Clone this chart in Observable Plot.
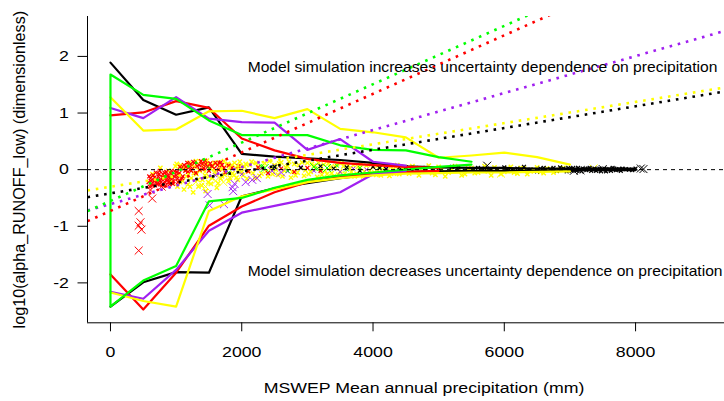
<!DOCTYPE html>
<html><head><meta charset="utf-8">
<script src="https://cdn.jsdelivr.net/npm/d3@7"></script>
<script src="https://cdn.jsdelivr.net/npm/@observablehq/plot@0.6"></script>
<style>body{margin:0;background:#fff}</style>
</head><body><div id="chart"></div>
<script>
// ---- axes ----
const X_DOMAIN = [-350, 9355];
const Y_DOMAIN = [-2.705, 2.705];
const xTicks = [0, 2000, 4000, 6000, 8000];
const yTicks = [-2, -1, 0, 1, 2];
const xTitle = "MSWEP Mean annual precipitation (mm)";
const yTitle = "log10(alpha_RUNOFF_low) (dimensionless)";
const noteUp = "Model simulation increases uncertainty dependence on precipitation";
const noteDown = "Model simulation decreases uncertainty dependence on precipitation";

// ---- binned envelopes (bin centres in mm) ----
const binX = [0,500,1000,1500,2000,2500,3000,3500,4000,4500,5000,5500,6000,6500,7000,7500,8000];
const blackUpper  = [1.89,1.23,0.97,1.10,0.28,0.23,0.20,0.17,0.12,0.06,0.04,0.03,0.03,0.02,0.02,0.02,0.02];
const blackLower  = [-2.42,-1.99,-1.81,-1.82,-0.47,-0.33,-0.24,-0.15,-0.08,-0.04,-0.03,-0.02,-0.02,-0.02,-0.01,-0.01,-0.01];
const redUpper    = [0.96,1.01,1.21,1.09,0.55,0.34,0.19,0.12,0.08,0.05,0.03];
const redLower    = [-1.85,-2.47,-1.82,-0.99,-0.65,-0.40,-0.22,-0.13,-0.08,-0.04,-0.02];
const greenUpper  = [1.68,1.32,1.25,0.87,0.61,0.61,0.61,0.43,0.35,0.34,0.22,0.14];
const greenLower  = [-2.42,-1.96,-1.70,-0.56,-0.50,-0.32,-0.18,-0.10,-0.05,0.00,0.05,0.09];
const purpleUpper = [1.09,0.91,1.28,0.90,0.84,0.83,0.35,0.54,0.14,0.07];
const purpleLower = [-2.16,-2.28,-1.77,-1.08,-0.76,-0.64,-0.52,-0.40,-0.08,-0.02];
const yellowUpper = [1.28,0.69,0.71,1.03,1.04,0.91,1.07,0.72,0.66,0.57,0.21,0.25,0.30,0.22,0.09];
const yellowLower = [-2.17,-2.32,-2.42,-0.73,-0.47,-0.35,-0.22,-0.15,-0.10,-0.07,-0.06,-0.05,-0.05,-0.04,-0.03];

// ---- regression lines: [intercept, slope per mm] ----
const blackFit  = [-0.419, 0.0001923];
const redFit    = [-0.729, 0.000517];
const greenFit  = [-0.553, 0.0005155];
const purpleFit = [-0.607, 0.0003266];
const yellowFit = [-0.302, 0.0001873];

// ---- catchment points [precip, log10 alpha] ----
const redPts = [[580,-0.22],[600,-0.30],[610,-0.15],[630,-0.25],[650,-0.10],[660,-0.20],[680,-0.28],[690,-0.05],[700,-0.17],[720,-0.24],[730,-0.12],[750,-0.02],[760,-0.19],[780,-0.27],[800,-0.08],[810,-0.15],[830,-0.22],[850,-0.04],[860,-0.12],[880,-0.18],[900,-0.26],[920,-0.07],[940,-0.14],[960,-0.20],[980,-0.03],[1000,-0.10],[1020,-0.16],[1050,-0.06],[1080,0.02],[1100,-0.12],[1150,0.05],[1180,-0.04],[1220,0.10],[1250,0.02],[1280,0.12],[1300,-0.06],[1350,0.08],[1380,0.15],[1420,0.03],[1450,0.10],[1500,-0.02],[1550,0.06],[1600,0.12],[1650,0.00],[1700,0.08],[1750,-0.05],[1850,0.03],[1950,0.06],[2100,-0.03],[2250,0.04],[2400,-0.06],[2600,0.02],[2800,-0.04],[3000,0.03],[3200,-0.02],
  [590,-0.12],[620,-0.20],[640,-0.28],[670,-0.14],[710,-0.26],[740,-0.08],[770,-0.22],[790,-0.14],[820,-0.05],[840,-0.28],[870,-0.10],[890,-0.22],[910,-0.15],[930,-0.02],[950,-0.25],[970,-0.12],[1010,-0.04],[1030,-0.22],[1060,0.05],[1090,-0.15],[1120,0.08],[1140,-0.02],[1170,0.12],[1200,0.04],[1230,-0.02],[1260,0.14],[1320,0.06],[1360,0.00],[1400,0.10],[1440,0.16],[1480,0.05],[1520,0.11],[1580,0.02],[1630,0.08],[1680,0.13],[1730,0.03],[1800,0.07]];
const redBig = [[430,-0.73],[457,-0.93],[430,-0.99],[472,-1.06],[430,-1.43],[636,-0.51],[610,-0.36],[700,-0.22],[850,-0.18],[780,-0.30]];
const yellowPts = [[640,-0.08],[700,-0.18],[760,0.03],[820,-0.12],[880,-0.02],[940,-0.22],[990,0.06],[1020,-0.30],[1040,-0.10],[1070,0.08],[1100,-0.20],[1120,-0.35],[1150,0.00],[1180,-0.26],[1200,0.12],[1230,-0.15],[1260,-0.40],[1290,0.05],[1310,-0.08],[1340,-0.30],[1370,0.14],[1400,-0.18],[1420,0.02],[1450,-0.38],[1480,0.10],[1500,-0.12],[1530,-0.25],[1560,0.06],[1590,-0.04],[1620,-0.32],[1650,0.13],[1680,-0.16],[1710,0.01],[1740,-0.09],[1770,0.09],[1800,-0.20],[1830,0.04],[1860,-0.06],[1890,0.12],[1920,-0.14],[1950,0.00],[1980,0.07],[2020,-0.10],[2060,0.10],[2100,-0.03],[2150,0.14],[2200,-0.15],[2250,0.05],[2300,-0.07],[2350,0.11],[2400,-0.12],[2450,0.02],[2500,0.08],[2550,-0.09],[2600,0.13],[2650,-0.02],[2700,0.06],[2750,-0.14],[2800,0.10],[2850,-0.05],[2900,0.03],[2950,-0.11],[3000,0.12],[3050,-0.04],[3100,0.07],[3150,-0.13],[3200,0.01],[3250,0.09],[3300,-0.08],[3350,0.04],[3400,-0.12],[3450,0.10],[3500,-0.03],[3550,0.06],[3600,-0.10],[3650,0.02],[3700,0.08],[3750,-0.07],[3800,0.03],[3850,-0.12],[3900,0.07],[3950,-0.02],[4000,0.05],[4050,-0.09],[4100,0.02],[4150,-0.05],[4200,0.08],[4250,-0.11],[4300,0.00],[4350,0.05],[4400,-0.08],[4450,0.03],[4500,-0.04],[4600,0.06],[4700,-0.10],[4800,0.02],[4900,-0.06],[5000,0.05],[5100,-0.12],[5200,0.00],[5300,0.04],[5400,-0.08],[5500,0.03],[5600,-0.05],[5700,0.06],[5800,-0.10],[5900,0.01],[6000,-0.04],[6100,0.05],[6200,-0.07],[6300,0.02],[6400,-0.03],[6500,0.04],[6600,-0.06],[6700,0.01],[6800,-0.02],[6900,0.03],
  [1010,0.10],[1060,-0.22],[1110,0.04],[1160,-0.12],[1210,-0.30],[1240,0.08],[1270,-0.06],[1300,0.15],[1330,-0.18],[1360,-0.02],[1390,-0.28],[1410,0.09],[1440,-0.10],[1470,0.16],[1490,-0.22],[1520,0.03],[1550,-0.15],[1580,0.12],[1610,-0.08],[1640,-0.24],[1670,0.06],[1700,-0.12],[1730,0.15],[1760,-0.02],[1790,0.10],[1820,-0.14],[1850,0.08],[1880,-0.10],[1910,0.03],[1940,-0.18],[1970,0.14],[2000,-0.04],[2040,0.05],[2080,-0.16],[2120,0.08],[2170,-0.06],[2220,0.12],[2270,-0.11],[2320,0.03],[2370,-0.03],[2420,0.15],[2470,-0.08],[2520,0.00],[2570,0.11],[2620,-0.12],[2670,0.04],[2720,0.14],[2770,-0.04],[2820,-0.10],[2870,0.08],[2920,0.13],[2970,-0.01],[3020,-0.08],[3070,0.10],[3120,0.02],[3170,0.12],[3220,-0.09],[3270,-0.02],[3320,0.11],[3370,-0.06],[3420,0.06],[3470,-0.09],[3520,0.12],[3570,-0.07],[3620,0.08],[3670,-0.04],[3720,-0.12],[3770,0.05],[3820,0.10],[3870,-0.03],[3920,-0.09],[3970,0.09],[4020,-0.05],[4070,0.07],[4120,-0.10],[4170,0.04],[4220,-0.02],[4270,0.06],[4320,-0.07],[4370,0.08],[4420,-0.03],[4480,0.05],[4550,-0.07],[4650,0.03],[4750,-0.02],[4850,0.07],[4950,-0.09],[5050,0.01],[5150,-0.05],[5250,0.06],[5350,-0.10],[5450,0.02],[5550,-0.06],[5650,0.00],[5750,-0.03],[5850,0.04],[5950,-0.08],[6050,0.02],[6150,-0.05],[6250,0.03],[6350,-0.08],[6450,0.00],[6550,-0.04],[6650,0.02],[6750,-0.05],[6850,0.00]];
const yellowBig = [[1300,-0.22],[1450,-0.30],[1600,-0.20],[1720,-0.22],[5950,-0.07],[7360,0.02]];
const purplePts = [[1600,-0.10],[2000,-0.08],[2300,0.02],[2500,0.06],[2700,-0.03],[2900,0.05],[3100,-0.02],[3300,0.03],[3500,-0.04],[3700,0.02],[3900,0.00],[4200,0.03]];
const purpleBig = [[1480,-0.43],[1510,-0.63],[1730,-0.61],[1860,-0.31],[1890,-0.25],[1870,-0.38],[2060,-0.22],[2160,-0.18],[2230,-0.15],[2460,-0.02],[2600,-0.05]];
const greenPts = [[1500,0.02],[1800,-0.05],[2300,0.06],[2500,0.04],[2700,-0.02],[3150,0.02],[3450,0.07],[3600,0.00],[3800,0.03],[4100,0.05],[4400,-0.02]];
const greenBig = [[2350,0.03],[3100,0.05],[3300,0.03]];
const blackPts = [[2500,0.05],[2900,0.03],[3200,0.06],[3400,0.02],[3600,0.04],[3800,-0.02],[4000,0.05],[4200,0.01],[4400,0.04],[4600,-0.01],[4800,0.03],[5000,0.02],[5200,0.05],[5400,-0.02],[5600,0.03],[5800,0.01],[6000,0.04],[6100,-0.02],[6200,0.02],[6300,0.05],[6400,0.00],[6500,-0.03],[6600,0.03],[6700,0.01],[6800,-0.02],[6850,0.04],[6900,0.02],[6950,-0.03],[7000,0.01],[7050,0.03],[7100,-0.02],[7150,0.00],[7200,0.02],[7250,-0.01],[7300,0.03],[7350,0.00],[7400,-0.02],[7450,0.02],[7500,0.00],[7550,-0.03],[7600,0.01],[7650,0.03],[7700,-0.01],[7750,0.01],[7800,0.02],[7900,0.00],[8000,0.02],
  [6925,0.00],[6975,0.03],[7025,-0.02],[7075,0.00],[7125,0.03],[7175,-0.03],[7225,0.01],[7275,0.02],[7325,-0.02],[7375,0.02],[7425,0.00],[7475,-0.03],[7525,0.02],[7575,0.00],[7625,-0.02],[7675,0.02],[7725,0.00],[7775,-0.02],[7850,0.01],[7950,-0.01],[4100,0.03],[4500,0.04],[4900,0.01],[5300,0.04],[5700,0.02],[6050,0.01],[6350,-0.02],[6550,0.02],[6750,0.03]];
const blackBig = [[5740,0.07],[7060,-0.02],[7160,-0.01],[7500,0.01],[8080,0.02],[8120,0.01]];

const COLORS = {black:"#000000", red:"#FF0000", green:"#00FF00", purple:"#A020F0", yellow:"#FFFF00"};

const env = (vals) => vals.map((v, i) => ({x: binX[i], y: v}));
const fitLine = ([a, b]) => X_DOMAIN.map(x => ({x, y: a + b * x}));
const dots = (pts, color, r, sw = 1) => Plot.dot(pts, {x: d => d[0], y: d => d[1], symbol: "times", r, stroke: color, strokeWidth: sw});
const solid = (data, color) => Plot.line(data, {x: "x", y: "y", stroke: color, strokeWidth: 2.2, clip: true});
const dotted = (fit, color) => Plot.line(fitLine(fit), {x: "x", y: "y", stroke: color, strokeWidth: 2.6, strokeDasharray: "2.6,5.8", strokeLinecap: "butt", clip: true});

const R_SMALL = 1.9, R_BIG = 3.7;

const chart = Plot.plot({
  width: 724, height: 401,
  marginLeft: 87, marginRight: 0, marginTop: 16, marginBottom: 78.7,
  style: {fontFamily: "'Liberation Sans', Arial, sans-serif", background: "#fff", color: "#000"},
  x: {domain: X_DOMAIN},
  y: {domain: Y_DOMAIN},
  marks: [
    dots(yellowPts, COLORS.yellow, 2.1, 1.4),
    dots(redPts, COLORS.red, R_SMALL, 1.2),
    dots(redBig, COLORS.red, R_BIG),
    dots(yellowBig, COLORS.yellow, R_BIG),
    dots(purplePts, COLORS.purple, R_SMALL),
    dots(purpleBig, COLORS.purple, R_BIG),
    dots(greenPts, COLORS.green, R_SMALL),
    dots(greenBig, COLORS.green, R_BIG),
    dots(blackPts, COLORS.black, R_SMALL, 1.2),
    dots(blackBig, COLORS.black, R_BIG),
    solid(env(blackUpper), COLORS.black),
    solid(env(blackLower), COLORS.black),
    solid(env(redUpper), COLORS.red),
    solid(env(redLower), COLORS.red),
    solid(env(purpleUpper), COLORS.purple),
    solid(env(purpleLower), COLORS.purple),
    solid(env(yellowUpper), COLORS.yellow),
    solid(env(yellowLower), COLORS.yellow),
    solid(env(greenLower).reverse().concat(env(greenUpper)), COLORS.green),
    dotted(blackFit, COLORS.black),
    dotted(yellowFit, COLORS.yellow),
    dotted(purpleFit, COLORS.purple),
    dotted(redFit, COLORS.red),
    dotted(greenFit, COLORS.green),
    Plot.ruleY([0], {stroke: "#000", strokeWidth: 1, strokeDasharray: "4,4"}),
    Plot.ruleX([X_DOMAIN[0]], {stroke: "#000", strokeWidth: 1}),
    Plot.ruleY([Y_DOMAIN[0]], {stroke: "#000", strokeWidth: 1}),
    Plot.axisX({ticks: xTicks, tickSize: 9, tickPadding: 15, fontSize: 14.8, tickFormat: d => String(d), label: null}),
    Plot.axisY({ticks: yTicks, tickSize: 9.5, tickPadding: 9, fontSize: 14.8, tickFormat: d => String(d), label: null}),
    Plot.text([xTitle], {text: d => d, frameAnchor: "bottom", textAnchor: "middle", lineAnchor: "middle", dx: 18, dy: 65, fontSize: 14.9, fill: "#000", ariaDescription: "xtitle"}),
    Plot.text([yTitle], {text: d => d, frameAnchor: "left", textAnchor: "middle", lineAnchor: "middle", dx: -67.5, rotate: -90, fontSize: 16.2, fill: "#000", ariaDescription: "ytitle"}),
    Plot.text([noteUp], {text: d => d, x: () => 2090, y: () => 1.8, textAnchor: "start", lineAnchor: "middle", fontSize: 14, fill: "#000", ariaDescription: "note"}),
    Plot.text([noteDown], {text: d => d, x: () => 2090, y: () => -1.8, textAnchor: "start", lineAnchor: "middle", fontSize: 14, fill: "#000", ariaDescription: "note"})
  ]
});
document.getElementById("chart").append(chart);

// widen glyphs horizontally about each text's own anchor point (local coords)
function stretch(selector, f) {
  chart.querySelectorAll(selector).forEach(t => {
    const b = t.getBBox();
    const anchor = getComputedStyle(t).textAnchor;
    const ax = anchor === "middle" ? b.x + b.width / 2 : anchor === "end" ? b.x + b.width : b.x;
    const tr = t.getAttribute("transform") || "";
    t.setAttribute("transform", `${tr} translate(${ax},0) scale(${f},1) translate(${-ax},0)`);
  });
}
stretch('g[aria-label="x-axis tick label"] text', 1.2);
stretch('g[aria-label="y-axis tick label"] text', 1.2);
stretch('g[aria-description="xtitle"] text', 1.19);
stretch('g[aria-description="note"] text', 1.116);
</script>
</body></html>
